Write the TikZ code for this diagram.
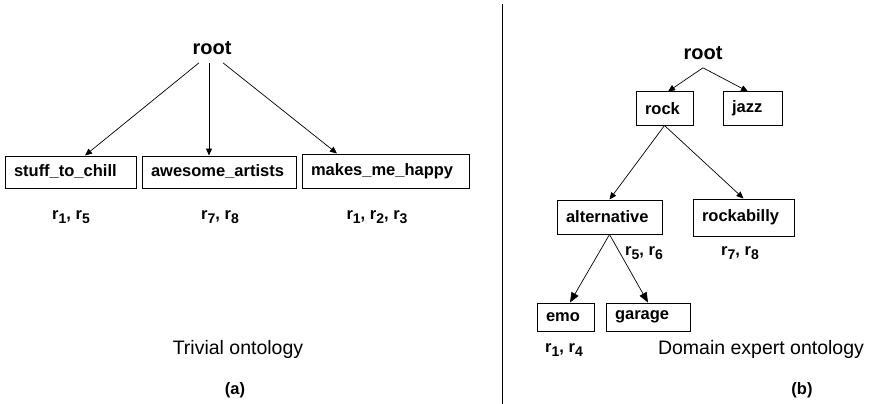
\documentclass[tikz,border=0pt]{standalone}
\usepackage{fontspec}
\setmainfont{Liberation Sans}
\usetikzlibrary{arrows.meta}

\newcommand{\rtag}[1]{r\raisebox{-4pt}{\fontsize{14}{14}\selectfont #1}}

\begin{document}
\begin{tikzpicture}[x=1pt,y=-1pt,
        lbl/.style={font=\bfseries\fontsize{16.5}{18}\selectfont},
        rootlbl/.style={font=\bfseries\fontsize{20}{22}\selectfont, inner xsep=0pt, inner ysep=7.5pt},
        captxt/.style={font=\fontsize{19.5}{22}\selectfont},
        bx/.style={draw, line width=1pt, lbl, inner xsep=9pt, inner ysep=0pt, align=left},
        arr/.style={line width=0.7pt, -{Triangle[length=7pt,width=6pt]}},
        bigarr/.style={line width=0.7pt, -{Triangle[length=10pt,width=8pt]}}]
        \useasboundingbox (0,0) rectangle (876,404);

        % divider
        \draw[line width=0.8pt] (502,4) -- (502,404);

        % trivial ontology
        \node[rootlbl] (rootA) at (212,48.5) {root};
        \node[bx, text width=113pt, minimum height=32pt] (chill) at (70.5,172) {stuff\_to\_chill};
        \node[bx, text width=136pt, minimum height=32pt] (awesome) at (219,172) {awesome\_artists};
        \node[bx, text width=149pt, minimum height=34pt] (happy) at (385.5,171) {makes\_me\_happy};

        \draw[arr] ([xshift=-13pt]rootA.south) -- ([xshift=14.5pt]chill.north);
        \draw[arr] ([xshift=-3pt]rootA.south) -- ([xshift=-10pt]awesome.north);
        \draw[arr] ([xshift=11pt]rootA.south) -- ([xshift=-48.5pt]happy.north);

        \node[lbl] (tagA1) at (71,217) {\rtag{1}, \rtag{5}};
        \node[lbl] (tagA2) at (220,217) {\rtag{7}, \rtag{8}};
        \node[lbl] (tagA3) at (377,217) {\rtag{1}, \rtag{2}, \rtag{3}};

        \node[captxt] (capA) at (238,349) {Trivial ontology};
        \node[lbl] (subA) at (235,390) {(a)};

        % domain expert ontology
        \node[rootlbl] (rootB) at (703,53.5) {root};
        \node[bx, text width=39pt, minimum height=33pt] (rock) at (664.5,108.5) {rock};
        \node[bx, text width=41pt, minimum height=33pt] (jazz) at (752.5,108.5) {jazz};
        \node[bx, text width=87pt, minimum height=34pt] (alt) at (609.5,217) {alternative};
        \node[bx, text width=83pt, minimum height=37pt] (rockabilly) at (743.5,217.5) {rockabilly};
        \node[bx, text width=39pt, minimum height=28pt] (emo) at (565.5,317) {emo};
        \node[bx, text width=66pt, minimum height=28pt] (garage) at (648,317) {garage};

        \draw[arr] (rootB.south) -- ([xshift=3.5pt]rock.north);
        \draw[arr] (rootB.south) -- ([xshift=-4.5pt]jazz.north);
        \draw[arr] (rock.south) -- (alt.north);
        \draw[arr] (rock.south) -- (rockabilly.north);
        \draw[bigarr] (alt.south) -- ([xshift=4.5pt]emo.north);
        \draw[bigarr] (alt.south) -- (garage.north);

        \node[lbl] (tagB1) at (644,253) {\rtag{5}, \rtag{6}};
        \node[lbl] (tagB2) at (740,253) {\rtag{7}, \rtag{8}};
        \node[lbl] (tagB3) at (564,350) {\rtag{1}, \rtag{4}};

        \node[captxt] (capB) at (761,349) {Domain expert ontology};
        \node[lbl] (subB) at (802,390) {(b)};
\end{tikzpicture}
\end{document}
